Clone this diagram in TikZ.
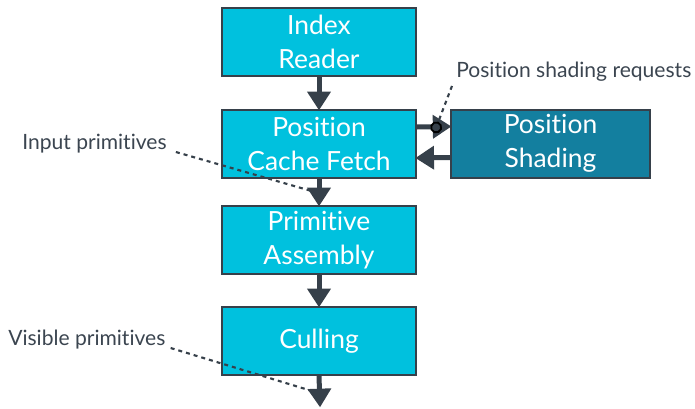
\documentclass[tikz,border=0pt]{standalone}
\usepackage{fontspec}
\setmainfont{Lato}[Ligatures = NoCommon]
\usepackage{xcolor}
\usetikzlibrary{arrows.meta}
\definecolor{stagecyan}{HTML}{00C1DE}
\definecolor{stageteal}{HTML}{137F9F}
\definecolor{edgegray}{HTML}{36404A}
\definecolor{notegray}{HTML}{3B4550}

\tikzset{
    stage/.style = {draw = edgegray, line width = 1.5pt, rectangle, minimum width = 145pt, minimum height = 51pt,
        text = white, align = center, font = \fontsize{19.8}{25.5}\selectfont},
    flow/.style = {-{Triangle[length = 14pt, width = 17pt]}, line width = 3.75pt, edgegray, shorten >= -1pt},
    note/.style = {text = notegray, font = \fontsize{15.8}{18}\selectfont, inner sep = 0pt},
    callout/.style = {edgegray, line width = 1.6pt, dash pattern = on 3pt off 3pt}
}

\begin{document}
\begin{tikzpicture}[x = 0.75pt, y = -0.75pt]
        \useasboundingbox (0, 0) rectangle (695, 408);

        % Nodes
        \node [stage, fill = stagecyan] (ir) at (319, 42) {Index\\Reader};
        \node [stage, fill = stagecyan] (pcf) at (319, 144) {Position\\Cache Fetch};
        \node [stage, fill = stagecyan] (pa) at (319, 240) {Primitive\\Assembly};
        \node [stage, fill = stagecyan] (cul) at (319, 341) {Culling};
        \node [stage, fill = stageteal, minimum width = 149pt] (ps) at (550.5, 143.5) {Position\\Shading};
        \coordinate (out) at (320, 406);

        % Draw the links
        \draw [flow] (ir.south) -- (pcf.north);
        \draw [flow] (pcf.south) -- (pa.north);
        \draw [flow] (pa.south) -- (cul.north);
        \draw [flow] (cul.south) -- (out);
        \draw [flow] ([yshift = 12.75pt] pcf.east) -- ([yshift = 12.75pt] ps.west);
        \draw [flow] ([yshift = -10.5pt] ps.west) -- ([yshift = -10.5pt] pcf.east);

        % Notes
        \node [note, anchor = west] (req) at (456, 72) {Position shading requests};
        \node [note, anchor = west] (inp) at (22, 144) {Input primitives};
        \node [note, anchor = west] (vis) at (8, 340) {Visible primitives};
        \coordinate (reqend) at (434, 133);
        \coordinate (inpend) at (315, 192);
        \coordinate (visend) at (312, 391);

        \draw [callout, -{Circle[open, black, length = 9pt, width = 9pt, line width = 1.4pt]}] ([shift = {(-4, 4)}] req.south west) -- (reqend);
        \draw [callout] ([shift = {(9, 8)}] inp.east) -- (inpend);
        \draw [callout] ([shift = {(5, 8)}] vis.east) -- (visend);

\end{tikzpicture}
\end{document}
